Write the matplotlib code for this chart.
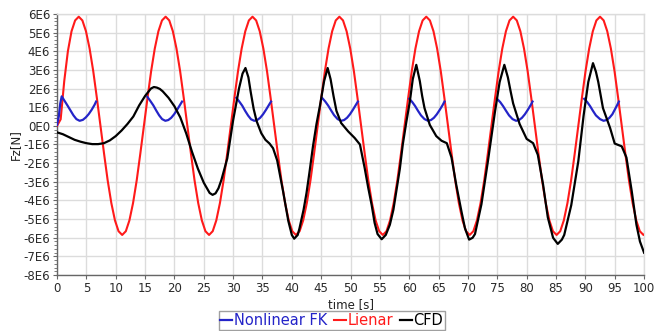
import numpy as np
import matplotlib
matplotlib.use("Agg")
import matplotlib.pyplot as plt
from matplotlib.ticker import MultipleLocator, FixedLocator, FixedFormatter

# ---------------- data (force values in 1E6 N) ----------------
red_t = [0.00, 0.62, 1.23, 1.85, 2.47, 3.08, 3.70, 4.32, 4.93, 5.55, 6.17, 6.78, 7.40, 8.02, 8.63, 9.25, 9.87, 10.48, 11.10, 11.72, 12.33, 12.95, 13.57, 14.18,
         14.80, 15.42, 16.03, 16.65, 17.27, 17.88, 18.50, 19.12, 19.73, 20.35, 20.97, 21.58, 22.20, 22.82, 23.43, 24.05, 24.67, 25.28, 25.90, 26.52, 27.13, 27.75, 28.37, 28.98,
         29.60, 30.22, 30.83, 31.45, 32.07, 32.68, 33.30, 33.92, 34.53, 35.15, 35.77, 36.38, 37.00, 37.62, 38.23, 38.85, 39.47, 40.08, 40.70, 41.32, 41.93, 42.55, 43.17, 43.78,
         44.40, 45.02, 45.63, 46.25, 46.87, 47.48, 48.10, 48.72, 49.33, 49.95, 50.57, 51.18, 51.80, 52.42, 53.03, 53.65, 54.27, 54.88, 55.50, 56.12, 56.73, 57.35, 57.97, 58.58,
         59.20, 59.82, 60.43, 61.05, 61.67, 62.28, 62.90, 63.52, 64.13, 64.75, 65.37, 65.98, 66.60, 67.22, 67.83, 68.45, 69.07, 69.68, 70.30, 70.92, 71.53, 72.15, 72.77, 73.38,
         74.00, 74.62, 75.23, 75.85, 76.47, 77.08, 77.70, 78.32, 78.93, 79.55, 80.17, 80.78, 81.40, 82.02, 82.63, 83.25, 83.87, 84.48, 85.10, 85.72, 86.33, 86.95, 87.57, 88.18,
         88.80, 89.42, 90.03, 90.65, 91.27, 91.88, 92.50, 93.12, 93.73, 94.35, 94.97, 95.58, 96.20, 96.82, 97.43, 98.05, 98.67, 99.28, 99.90, 100.0]
red_v = [0.0, 0.35, 2.40, 4.00, 5.07, 5.65, 5.85, 5.65, 5.07, 4.14, 2.93, 1.51, 0.0, -1.51, -2.93, -4.14, -5.07, -5.65, -5.85, -5.65, -5.07, -4.14, -2.93, -1.51,
         0.0, 1.51, 2.93, 4.14, 5.07, 5.65, 5.85, 5.65, 5.07, 4.14, 2.93, 1.51, 0.0, -1.51, -2.93, -4.14, -5.07, -5.65, -5.85, -5.65, -5.07, -4.14, -2.93, -1.51,
         0.0, 1.51, 2.93, 4.14, 5.07, 5.65, 5.85, 5.65, 5.07, 4.14, 2.93, 1.51, 0.0, -1.51, -2.93, -4.14, -5.07, -5.65, -5.85, -5.65, -5.07, -4.14, -2.93, -1.51,
         0.0, 1.51, 2.93, 4.14, 5.07, 5.65, 5.85, 5.65, 5.07, 4.14, 2.93, 1.51, 0.0, -1.51, -2.93, -4.14, -5.07, -5.65, -5.85, -5.65, -5.07, -4.14, -2.93, -1.51,
         0.0, 1.51, 2.93, 4.14, 5.07, 5.65, 5.85, 5.65, 5.07, 4.14, 2.93, 1.51, 0.0, -1.51, -2.93, -4.14, -5.07, -5.65, -5.85, -5.65, -5.07, -4.14, -2.93, -1.51,
         0.0, 1.51, 2.93, 4.14, 5.07, 5.65, 5.85, 5.65, 5.07, 4.14, 2.93, 1.51, 0.0, -1.51, -2.93, -4.14, -5.07, -5.65, -5.85, -5.65, -5.07, -4.14, -2.93, -1.51,
         0.0, 1.51, 2.93, 4.14, 5.07, 5.65, 5.85, 5.65, 5.07, 4.14, 2.93, 1.51, 0.0, -1.51, -2.93, -4.14, -5.07, -5.65, -5.85, -5.84]

# Nonlinear FK: separate segments
fk_segments_t = [
    [0.0, 0.3, 0.55, 0.8, 1.3, 1.8, 2.3, 2.8, 3.3, 3.85, 4.4, 4.9, 5.4, 5.9, 6.4, 6.65],
    [15.4, 15.9, 16.4, 16.9, 17.4, 17.9, 18.45, 18.95, 19.45, 19.95, 20.45, 20.95, 21.3],
    [30.55, 31.05, 31.55, 32.05, 32.55, 33.05, 33.6, 34.1, 34.6, 35.1, 35.6, 36.1, 36.45],
    [45.2, 45.7, 46.2, 46.7, 47.2, 47.8, 48.4, 48.9, 49.4, 49.9, 50.4, 50.9, 51.25],
    [60.0, 60.5, 61.0, 61.5, 62.0, 62.6, 63.2, 63.7, 64.2, 64.7, 65.2, 65.7, 66.0],
    [75.0, 75.5, 76.0, 76.5, 77.0, 77.6, 78.2, 78.7, 79.2, 79.7, 80.2, 80.7, 81.0],
    [89.8, 90.3, 90.8, 91.3, 91.8, 92.5, 93.1, 93.6, 94.1, 94.6, 95.0, 95.4, 95.7],
]
fk_segments_v = [
    [0.05, 0.5, 1.2, 1.58, 1.33, 1.08, 0.82, 0.56, 0.36, 0.27, 0.32, 0.45, 0.63, 0.86, 1.13, 1.3],
    [1.55, 1.33, 1.1, 0.82, 0.56, 0.36, 0.27, 0.31, 0.43, 0.62, 0.86, 1.12, 1.3],
    [1.5, 1.3, 1.08, 0.8, 0.55, 0.35, 0.27, 0.31, 0.43, 0.62, 0.86, 1.12, 1.3],
    [1.48, 1.3, 1.08, 0.82, 0.57, 0.36, 0.27, 0.31, 0.43, 0.62, 0.86, 1.12, 1.3],
    [1.45, 1.28, 1.06, 0.8, 0.56, 0.36, 0.27, 0.31, 0.43, 0.62, 0.86, 1.12, 1.3],
    [1.43, 1.27, 1.05, 0.8, 0.56, 0.36, 0.27, 0.31, 0.43, 0.62, 0.86, 1.12, 1.3],
    [1.45, 1.28, 1.06, 0.8, 0.56, 0.36, 0.27, 0.31, 0.43, 0.62, 0.86, 1.1, 1.3],
]

cfd_t = [0, 1, 2, 3, 4, 5, 6, 7, 8, 9, 10, 11, 12, 13, 14, 15, 16, 16.5, 17, 17.5, 18, 19, 20, 21, 22, 23, 24, 25, 26, 26.5, 27, 27.5, 28, 29, 30, 31, 31.6, 32.1, 32.6, 33, 33.5, 34, 34.8, 35.5, 36.2, 36.8, 37.5, 38.5, 39.4, 40, 40.4, 41, 41.3, 42, 42.5, 43, 43.6, 44.2, 44.8, 45.5, 46.1, 46.6, 47.1, 47.6, 48.4, 49.6, 50.7, 51.6, 52.4, 53, 53.6, 54.1, 54.6, 55.3, 56, 56.7, 57.3, 57.8, 58.4, 58.9, 59.5, 60.1, 60.6, 61.2, 61.8, 62.2, 62.6, 63.5, 64.6, 65.5, 66.4, 67.2, 68, 68.9, 69.5, 70.2, 70.8, 71.2, 72.3, 73.4, 74.6, 75.4, 76.2, 76.8, 77.3, 77.7, 78.8, 80, 81.1, 81.9, 82.8, 83.6, 84.5, 85.3, 86.0, 86.4, 87.6, 88.8, 89.7, 90.5, 91.3, 91.8, 92.2, 93.0, 94.2, 95.0, 96.2, 97.0, 97.9, 98.7, 99.3, 100]
cfd_v = [-0.35, -0.45, -0.6, -0.75, -0.85, -0.93, -0.98, -0.98, -0.93, -0.78, -0.55, -0.25, 0.1, 0.5, 1.1, 1.6, 2.0, 2.08, 2.05, 1.98, 1.85, 1.5, 1.05, 0.45, -0.4, -1.4, -2.3, -3.05, -3.6, -3.7, -3.62, -3.35, -2.9, -1.75, 0.3, 2.0, 2.8, 3.1, 2.6, 1.8, 0.9, 0.25, -0.4, -0.75, -0.95, -1.2, -1.85, -3.5, -5.1, -5.85, -6.05, -5.85, -5.5, -4.5, -3.6, -2.5, -1.1, 0.1, 1.1, 2.4, 3.1, 2.5, 1.6, 0.8, 0.15, -0.3, -0.65, -1.0, -2.25, -3.3, -4.25, -5.2, -5.8, -6.08, -5.85, -5.3, -4.5, -3.5, -2.3, -1.0, 0.2, 1.3, 2.5, 3.27, 2.4, 1.6, 0.95, 0.05, -0.55, -0.8, -0.93, -1.7, -3.15, -4.6, -5.5, -6.1, -6.0, -5.8, -4.2, -1.9, 0.75, 2.35, 3.27, 2.6, 1.8, 1.2, 0.1, -0.7, -0.93, -1.55, -3.15, -4.9, -6.0, -6.33, -6.1, -5.85, -4.25, -1.9, 0.55, 2.35, 3.36, 2.9, 2.35, 0.95, -0.1, -0.95, -1.1, -1.7, -3.5, -5.3, -6.2, -6.8]

x_ticks = [0, 5, 10, 15, 20, 25, 30, 35, 40, 45, 50, 55, 60, 65, 70, 75, 80, 85, 90, 95, 100]
y_ticks = [6, 5, 4, 3, 2, 1, 0, -1, -2, -3, -4, -5, -6, -7, -8]
y_labels = ["6E6", "5E6", "4E6", "3E6", "2E6", "1E6", "0E0", "-1E6", "-2E6", "-3E6", "-4E6", "-5E6", "-6E6", "-7E6", "-8E6"]
series_names = ["Nonlinear FK", "Lienar", "CFD"]

# ---------------- plot ----------------
SCALE = 1e6
c_fk, c_lin, c_cfd = "#2424c8", "#ff1a1a", "#000000"

fig = plt.figure(figsize=(6.57, 3.31), dpi=100)
ax = fig.add_axes([0.0868, 0.169, 0.8935, 0.789])

ax.plot(red_t, np.array(red_v) * SCALE, color=c_lin, lw=1.5, zorder=3, label=series_names[1])
for i, (st, sv) in enumerate(zip(fk_segments_t, fk_segments_v)):
    ax.plot(st, np.array(sv) * SCALE, color=c_fk, lw=1.6, zorder=4,
            label=series_names[0] if i == 0 else None)
ax.plot(cfd_t, np.array(cfd_v) * SCALE, color=c_cfd, lw=1.6, zorder=5, label=series_names[2])

ax.set_xlim(0, 100)
ax.set_ylim(-8 * SCALE, 6 * SCALE)
ax.xaxis.set_major_locator(FixedLocator(x_ticks))
ax.yaxis.set_major_locator(FixedLocator([v * SCALE for v in y_ticks]))
ax.yaxis.set_major_formatter(FixedFormatter(y_labels))
ax.yaxis.set_minor_locator(MultipleLocator(0.2 * SCALE))

ax.grid(True, which="major", color="#dcdcdc", lw=1.0, zorder=0)
for s in ["top", "right"]:
    ax.spines[s].set_color("#dcdcdc")
    ax.spines[s].set_linewidth(1.0)
for s in ["left", "bottom"]:
    ax.spines[s].set_color("#666666")
    ax.spines[s].set_linewidth(1.0)
ax.tick_params(axis="both", which="major", labelsize=8.5, colors="#666666", labelcolor="#2a2a2a", length=3, width=0.8, pad=2)
ax.tick_params(axis="y", which="minor", length=2, width=0.6, colors="#666666")

ax.set_xlabel("time [s]", fontsize=8.5, color="#222222", labelpad=2)
ax.set_ylabel("Fz[N]", fontsize=8.5, color="#222222", labelpad=1)

handles, labels = ax.get_legend_handles_labels()
order = [labels.index(n) for n in series_names]
leg = fig.legend([handles[i] for i in order], [labels[i] for i in order],
                 loc="lower center", bbox_to_anchor=(0.505, 0.0), ncol=3,
                 fontsize=10.5, frameon=True, fancybox=False, handlelength=0.8,
                 handletextpad=0.1, columnspacing=0.5, borderpad=0.12,
                 borderaxespad=0.1)
leg.get_frame().set_edgecolor("#888888")
leg.get_frame().set_linewidth(1.0)
for txt, col in zip(leg.get_texts(), [c_fk, c_lin, c_cfd]):
    txt.set_color(col)

fig.savefig("out.png", dpi=100)
